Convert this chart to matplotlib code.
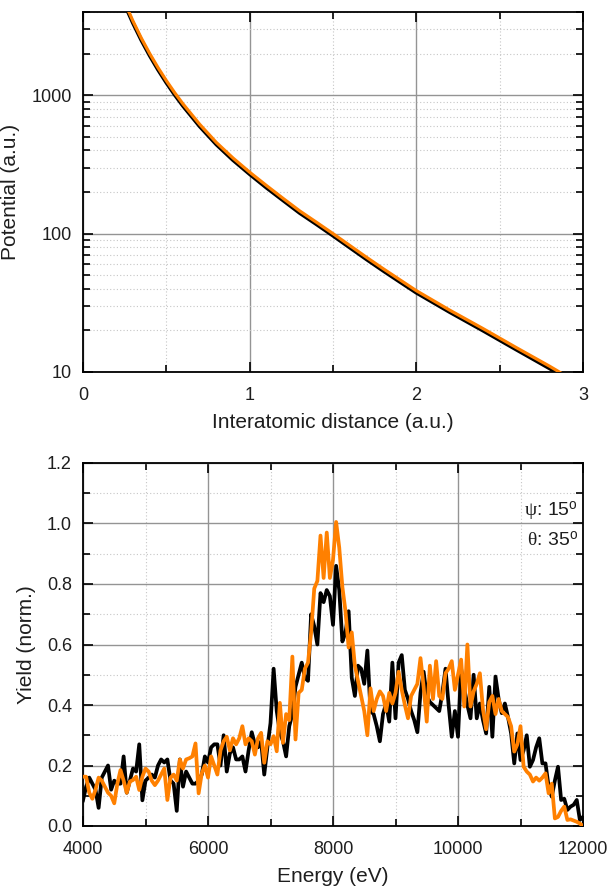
import numpy as np
import matplotlib
matplotlib.use("Agg")
import matplotlib.pyplot as plt
from matplotlib.ticker import FixedLocator, NullFormatter, FuncFormatter, MultipleLocator

plt.rcParams['font.family'] = ['Liberation Sans', 'DejaVu Sans']
plt.rcParams['mathtext.fontset'] = 'custom'
plt.rcParams['mathtext.rm'] = 'Liberation Sans'
plt.rcParams['mathtext.it'] = 'Liberation Serif'

# ---- interatomic potential ----
distance = [0.25, 0.27, 0.30, 0.35, 0.40, 0.45, 0.50, 0.55, 0.60, 0.70, 0.80, 0.90,
            1.00, 1.10, 1.20, 1.30, 1.40, 1.50, 1.60, 1.70, 1.80, 1.90, 2.00,
            2.20, 2.40, 2.60, 2.80, 2.84, 2.90]
potential_black = [4600, 4000, 3319, 2500, 1936, 1531, 1233, 1009, 837, 596, 441, 340,
                   269, 215, 174, 141, 117, 96.6, 79.4, 65.3, 54.0, 44.9, 37.4,
                   27.1, 19.9, 14.5, 10.6, 9.93, 9.0]
potential_orange = [4760, 4140, 3435, 2588, 2004, 1585, 1276, 1044, 866, 617, 456, 352,
                    278, 223, 180, 146, 121, 100, 82.2, 67.6, 55.9, 46.5, 38.7,
                    28.0, 20.6, 15.0, 11.0, 10.3, 9.3]

# ---- yield spectra ----
energy = np.arange(4000, 12001, 50)
yield_black = [
    0.085, 0.13, 0.16, 0.14, 0.12, 0.06, 0.16, 0.18, 0.20, 0.12,
    0.15, 0.14, 0.14, 0.23, 0.11, 0.15, 0.19, 0.18, 0.27, 0.085,
    0.15, 0.16, 0.17, 0.16, 0.20, 0.22, 0.21, 0.22, 0.15, 0.14,
    0.05, 0.22, 0.13, 0.18, 0.16, 0.14, 0.14, 0.15, 0.17, 0.23,
    0.21, 0.26, 0.27, 0.27, 0.20, 0.30, 0.18, 0.24, 0.26, 0.22,
    0.22, 0.23, 0.18, 0.25, 0.31, 0.27, 0.26, 0.28, 0.17, 0.26,
    0.34, 0.52, 0.38, 0.31, 0.28, 0.23, 0.33, 0.37, 0.46, 0.50,
    0.54, 0.49, 0.48, 0.70, 0.66, 0.60, 0.77, 0.74, 0.78, 0.76,
    0.665, 0.86, 0.78, 0.61, 0.64, 0.71, 0.49, 0.43, 0.53, 0.52,
    0.47, 0.58, 0.38, 0.37, 0.33, 0.28, 0.37, 0.405, 0.345, 0.54,
    0.356, 0.54, 0.565, 0.45, 0.42, 0.38, 0.35, 0.31, 0.44, 0.51,
    0.43, 0.41, 0.40, 0.39, 0.38, 0.44, 0.52, 0.40, 0.295, 0.38,
    0.295, 0.52, 0.455, 0.40, 0.356, 0.50, 0.356, 0.405, 0.35, 0.306,
    0.46, 0.295, 0.494, 0.42, 0.373, 0.405, 0.36, 0.306, 0.207, 0.306,
    0.218, 0.25, 0.30, 0.196, 0.218, 0.26, 0.29, 0.207, 0.207, 0.13,
    0.097, 0.15, 0.196, 0.086, 0.09, 0.053, 0.064, 0.07, 0.086, 0.02,
    0.03]
yield_orange = [
    0.163, 0.163, 0.11, 0.09, 0.12, 0.16, 0.15, 0.13, 0.11, 0.10,
    0.075, 0.14, 0.185, 0.15, 0.11, 0.147, 0.152, 0.163, 0.119, 0.163,
    0.19, 0.18, 0.15, 0.135, 0.15, 0.17, 0.19, 0.086, 0.16, 0.17,
    0.15, 0.22, 0.19, 0.22, 0.224, 0.23, 0.273, 0.108, 0.174, 0.20,
    0.16, 0.23, 0.20, 0.17, 0.25, 0.28, 0.295, 0.25, 0.29, 0.27,
    0.29, 0.33, 0.27, 0.29, 0.28, 0.236, 0.29, 0.308, 0.209, 0.28,
    0.27, 0.297, 0.247, 0.407, 0.275, 0.37, 0.35, 0.56, 0.286, 0.44,
    0.45, 0.52, 0.54, 0.64, 0.785, 0.81, 0.96, 0.82, 0.97, 0.82,
    0.88, 1.005, 0.92, 0.79, 0.71, 0.59, 0.64, 0.53, 0.48, 0.43,
    0.38, 0.30, 0.455, 0.38, 0.42, 0.445, 0.43, 0.38, 0.44, 0.405,
    0.44, 0.51, 0.45, 0.40, 0.356, 0.43, 0.45, 0.47, 0.555, 0.46,
    0.345, 0.53, 0.42, 0.545, 0.43, 0.42, 0.505, 0.52, 0.545, 0.45,
    0.50, 0.55, 0.395, 0.60, 0.395, 0.445, 0.47, 0.505, 0.385, 0.32,
    0.41, 0.43, 0.37, 0.42, 0.38, 0.37, 0.36, 0.33, 0.246, 0.27,
    0.33, 0.196, 0.18, 0.17, 0.147, 0.16, 0.15, 0.16, 0.174, 0.108,
    0.14, 0.025, 0.03, 0.05, 0.064, 0.02, 0.022, 0.018, 0.014, 0.008,
    0.0]

BLACK = '#000000'
ORANGE = '#ff8000'
TEXT = '#1e1e1e'
MAJOR_GRID = dict(color='#949494', linewidth=1.0, linestyle='-')
MINOR_GRID = dict(color='#c6c6c6', linewidth=0.8, linestyle=(0, (1, 2)))
LW = 2.7

W, H = 609, 893
fig = plt.figure(figsize=(W / 100, H / 100), dpi=100)


def px_axes(left, top, right, bottom):
    return fig.add_axes([left / W, 1 - bottom / H, (right - left) / W, (bottom - top) / H])


def style_ticks(ax, xpad, ypad):
    ax.tick_params(which='both', direction='in', top=True, right=True,
                   colors=BLACK, labelcolor=TEXT, labelsize=13, width=1.2)
    ax.tick_params(which='major', length=7)
    ax.tick_params(which='minor', length=5)
    ax.tick_params(axis='x', which='both', pad=xpad)
    ax.tick_params(axis='y', which='both', pad=ypad)
    for sp in ax.spines.values():
        sp.set_linewidth(1.3)
        sp.set_color(BLACK)
    ax.set_axisbelow(True)
    ax.grid(True, which='major', **MAJOR_GRID)
    ax.grid(True, which='minor', **MINOR_GRID)


# ---- top panel: potential ----
ax1 = px_axes(83, 12, 583, 372)
ax1.plot(distance, potential_black, color=BLACK, lw=LW, solid_capstyle='butt', zorder=3)
ax1.plot(distance, potential_orange, color=ORANGE, lw=LW - 0.4, solid_capstyle='butt', zorder=4)
ax1.set_yscale('log')
ax1.set_xlim(0, 3)
ax1.set_ylim(10, 4000)
ax1.xaxis.set_major_locator(FixedLocator([0, 1, 2, 3]))
ax1.xaxis.set_minor_locator(FixedLocator([0.5, 1.5, 2.5]))
ax1.yaxis.set_major_locator(FixedLocator([10, 100, 1000]))
ax1.yaxis.set_minor_locator(FixedLocator(
    [m * d for d in (10, 100, 1000) for m in range(2, 10) if m * d <= 4000]))
ax1.yaxis.set_major_formatter(FuncFormatter(lambda v, p: f'{v:.0f}'))
ax1.yaxis.set_minor_formatter(NullFormatter())
ax1.xaxis.set_major_formatter(FuncFormatter(lambda v, p: f'{v:.0f}'))
style_ticks(ax1, xpad=11, ypad=8)
ax1.set_xlabel('Interatomic distance (a.u.)', fontsize=15, color=TEXT, labelpad=6)
ax1.set_ylabel('Potential (a.u.)', fontsize=15, color=TEXT, labelpad=8)

# ---- bottom panel: yield vs energy ----
ax2 = px_axes(83, 463, 583, 826)
ax2.plot(energy, yield_black, color=BLACK, lw=LW, zorder=3)
ax2.plot(energy, yield_orange, color=ORANGE, lw=LW, zorder=4)
ax2.set_xlim(4000, 12000)
ax2.set_ylim(0, 1.2)
ax2.xaxis.set_major_locator(MultipleLocator(2000))
ax2.xaxis.set_minor_locator(MultipleLocator(1000))
ax2.yaxis.set_major_locator(MultipleLocator(0.2))
ax2.yaxis.set_minor_locator(MultipleLocator(0.1))
ax2.yaxis.set_major_formatter(FuncFormatter(lambda v, p: f'{v:.1f}'))
ax2.xaxis.set_major_formatter(FuncFormatter(lambda v, p: f'{v:.0f}'))
style_ticks(ax2, xpad=11, ypad=8)
ax2.set_xlabel('Energy (eV)', fontsize=15, color=TEXT, labelpad=6)
ax2.set_ylabel('Yield (norm.)', fontsize=15, color=TEXT, labelpad=8)

ax2.text(0.99, 0.868, r'$\psi$: 15$^{\mathrm{o}}$', transform=ax2.transAxes,
         ha='right', va='center', fontsize=14, color=TEXT)
ax2.text(0.99, 0.786, r'$\theta$: 35$^{\mathrm{o}}$', transform=ax2.transAxes,
         ha='right', va='center', fontsize=14, color=TEXT)

fig.savefig('out.png', dpi=100)
